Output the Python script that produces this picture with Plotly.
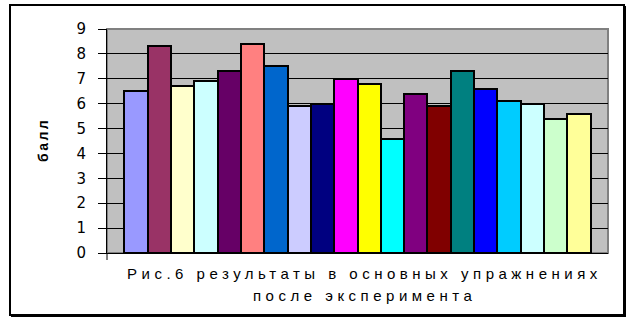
import plotly.graph_objects as go

values = [6.5, 8.3, 6.7, 6.9, 7.3, 8.4, 7.5, 5.9, 6.0, 7.0,
          6.8, 4.6, 6.4, 5.9, 7.3, 6.6, 6.1, 6.0, 5.4, 5.6]
colors = ["#9999FF", "#993366", "#FFFFCC", "#CCFFFF", "#660066", "#FF8080",
          "#0066CC", "#CCCCFF", "#000080", "#FF00FF", "#FFFF00", "#00FFFF",
          "#800080", "#800000", "#008080", "#0000FF", "#00CCFF", "#CCFFFF",
          "#CCFFCC", "#FFFF99"]
y_ticks = [0, 1, 2, 3, 4, 5, 6, 7, 8, 9]
y_title = "балл"
caption_lines = ["Рис.6 результаты в основных упражнениях", "после эксперимента"]

W, H = 636, 322
L, R, T, B = 107, 28, 29, 69
pw, ph = W - L - R, H - T - B

def px_x(x):
    return (x - L) / pw

def px_y(y):
    return (H - B - y) / ph

fig = go.Figure()
fig.add_trace(go.Bar(
    x=list(range(len(values))), y=values, width=1,
    marker=dict(color=colors, line=dict(color="black", width=2)),
    showlegend=False, hoverinfo="skip"))

shapes = [
    dict(type="rect", xref="paper", yref="paper", x0=0, x1=1, y0=0, y1=1,
         line=dict(color="#808080", width=2), layer="below"),
    dict(type="rect", xref="paper", yref="paper",
         x0=px_x(10), x1=px_x(624), y0=px_y(315), y1=px_y(5),
         line=dict(color="black", width=2)),
    dict(type="line", xref="paper", yref="paper",
         x0=px_x(625), x1=px_x(625), y0=px_y(316), y1=px_y(6),
         line=dict(color="black", width=2)),
    dict(type="line", xref="paper", yref="paper",
         x0=px_x(11), x1=px_x(626), y0=px_y(316), y1=px_y(316),
         line=dict(color="black", width=2)),
    dict(type="line", xref="paper", yref="paper",
         x0=0, x1=0, y0=0, y1=px_y(260), line=dict(color="black", width=1)),
]

def spaced(t, sp):
    return '<span style="letter-spacing:%spx">%s</span>' % (sp, t)

annotations = [
    dict(text=spaced(y_title, 2.5), xref="paper", yref="paper",
         x=px_x(43), y=px_y(140), xanchor="center", yanchor="middle",
         textangle=-90, showarrow=False,
         font=dict(family="Liberation Sans", size=14, color="black",
                   weight="bold")),
]
for line, cy, sp in zip(caption_lines, [273, 295], [4.5, 4.5]):
    annotations.append(dict(
        text=spaced(line, sp), xref="paper", yref="paper",
        x=px_x(364), y=px_y(cy), xanchor="center", yanchor="middle",
        showarrow=False,
        font=dict(family="Liberation Sans", size=15, color="black")))

fig.update_layout(
    width=W, height=H,
    margin=dict(l=L, r=R, t=T, b=B, pad=0),
    paper_bgcolor="white", plot_bgcolor="#C0C0C0",
    bargap=0,
    shapes=shapes,
    xaxis=dict(range=[-1.25, len(values) + 0.25], showticklabels=False,
               ticks="", showgrid=False, zeroline=False,
               showline=True, linecolor="black", linewidth=1),
    yaxis=dict(range=[0, 9], tickvals=y_ticks, ticks="outside", ticklen=8,
               tickcolor="black", tickwidth=1, ticklabelstandoff=9,
               showgrid=True, gridcolor="black", gridwidth=1,
               zeroline=False, showline=True, linecolor="black", linewidth=1,
               tickfont=dict(family="DejaVu Sans", size=15, color="black")),
    annotations=annotations,
)

fig.write_html("out.html")
